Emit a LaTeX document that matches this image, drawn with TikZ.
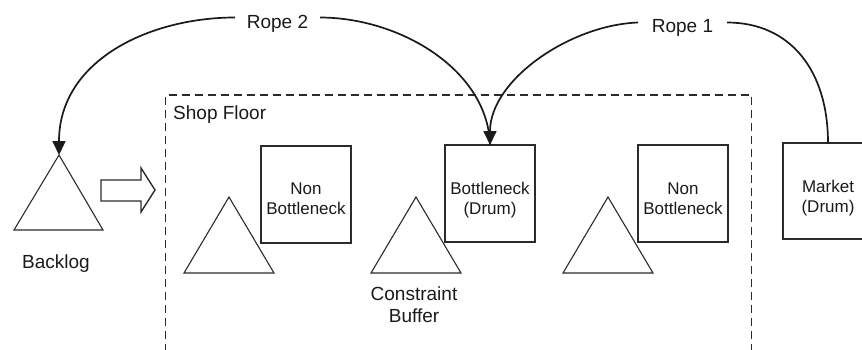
\documentclass[tikz,border=0pt]{standalone}
\usepackage{fontspec}
\setmainfont{Liberation Sans}
\usetikzlibrary{arrows.meta}
\definecolor{ink}{HTML}{1A1A1A}
\definecolor{edge}{HTML}{2B2B2B}

\begin{document}
\begin{tikzpicture}[x=1pt,y=-1pt,
  station/.style={draw=edge, line width=1.2pt, minimum width=90pt, minimum height=97pt,
    inner sep=0pt, outer sep=0pt},
  boxtext/.style={font=\fontsize{17}{19.5}\selectfont, align=center, inner sep=0pt, text=ink},
  lbl/.style={font=\fontsize{19}{22}\selectfont, align=center, inner sep=0pt, text=ink},
  buffer/.style={draw=edge, line width=1.1pt, line join=miter},
  rope/.style={draw=ink, line width=1.7pt},
  ropetip/.style={-{Triangle[width=13pt,length=14pt]}},
  floor/.style={draw=edge, line width=1.8pt, dash pattern=on 8pt off 5pt},
]
\useasboundingbox (0,0) rectangle (862,349);
\clip (0,0) rectangle (862,349);

% shop floor boundary (open at the bottom)
\draw[floor] (165.5,352) -- (165.5,95) -- (751.5,95) -- (751.5,352);
\node[lbl, anchor=base west] (shop) at (173,119) {Shop Floor};

% backlog
\coordinate (backlogtop) at (59,155);
\draw[buffer] (14,230) -- (backlogtop) -- (103,230) -- cycle;
\node[lbl, anchor=base] (backlog) at (56,268) {Backlog};

% release arrow into the shop floor
\draw[buffer, line width=1.4pt] (101,180) -- (141,180) -- (141,168) -- (155,190)
  -- (141,212) -- (141,201) -- (101,201) -- cycle;

% buffers in front of each resource
\draw[buffer] (184,273) -- (229,197) -- (274,273) -- cycle;
\draw[buffer] (371,273) -- (416,197) -- (461,273) -- cycle;
\draw[buffer] (563,273) -- (608,197) -- (653,273) -- cycle;
\node[lbl] (cbuf) at (414,304.5) {Constraint\\Buffer};

% resources
\node[station] (nb1) at (306,194.5) {};
\node[station] (bn)  at (490,193.5) {};
\node[station] (nb2) at (683,193.5) {};
\node[station, minimum height=96pt] (mkt) at (828,191) {};

\node[boxtext] at (306,198.5) {Non\\Bottleneck};
\node[boxtext] at (490,200) {Bottleneck\\(Drum)};
\node[boxtext] at (683,198.5) {Non\\Bottleneck};
\node[boxtext] at (828,198) {Market\\(Drum)};

% rope 2: drum to backlog
\node[lbl, anchor=base] (rope2) at (277.5,28) {Rope 2};
\coordinate (r2w) at (235,17.5);
\coordinate (r2e) at (320,17.5);
\draw[rope, ropetip] (r2w) .. controls (150,17.5) and (59,60) .. (backlogtop);
\draw[rope] (r2e) .. controls (400,17.5) and (488,70) .. (bn.north);

% rope 1: market to drum
\node[lbl, anchor=base] (rope1) at (682.5,32) {Rope 1};
\coordinate (r1w) at (638,22.5);
\coordinate (r1e) at (727,22.5);
\draw[rope, ropetip] (r1w) .. controls (570,25) and (490,80) .. (bn.north);
\draw[rope] (r1e) .. controls (790,22.5) and (828,70) .. (mkt.north);
\end{tikzpicture}
\end{document}
